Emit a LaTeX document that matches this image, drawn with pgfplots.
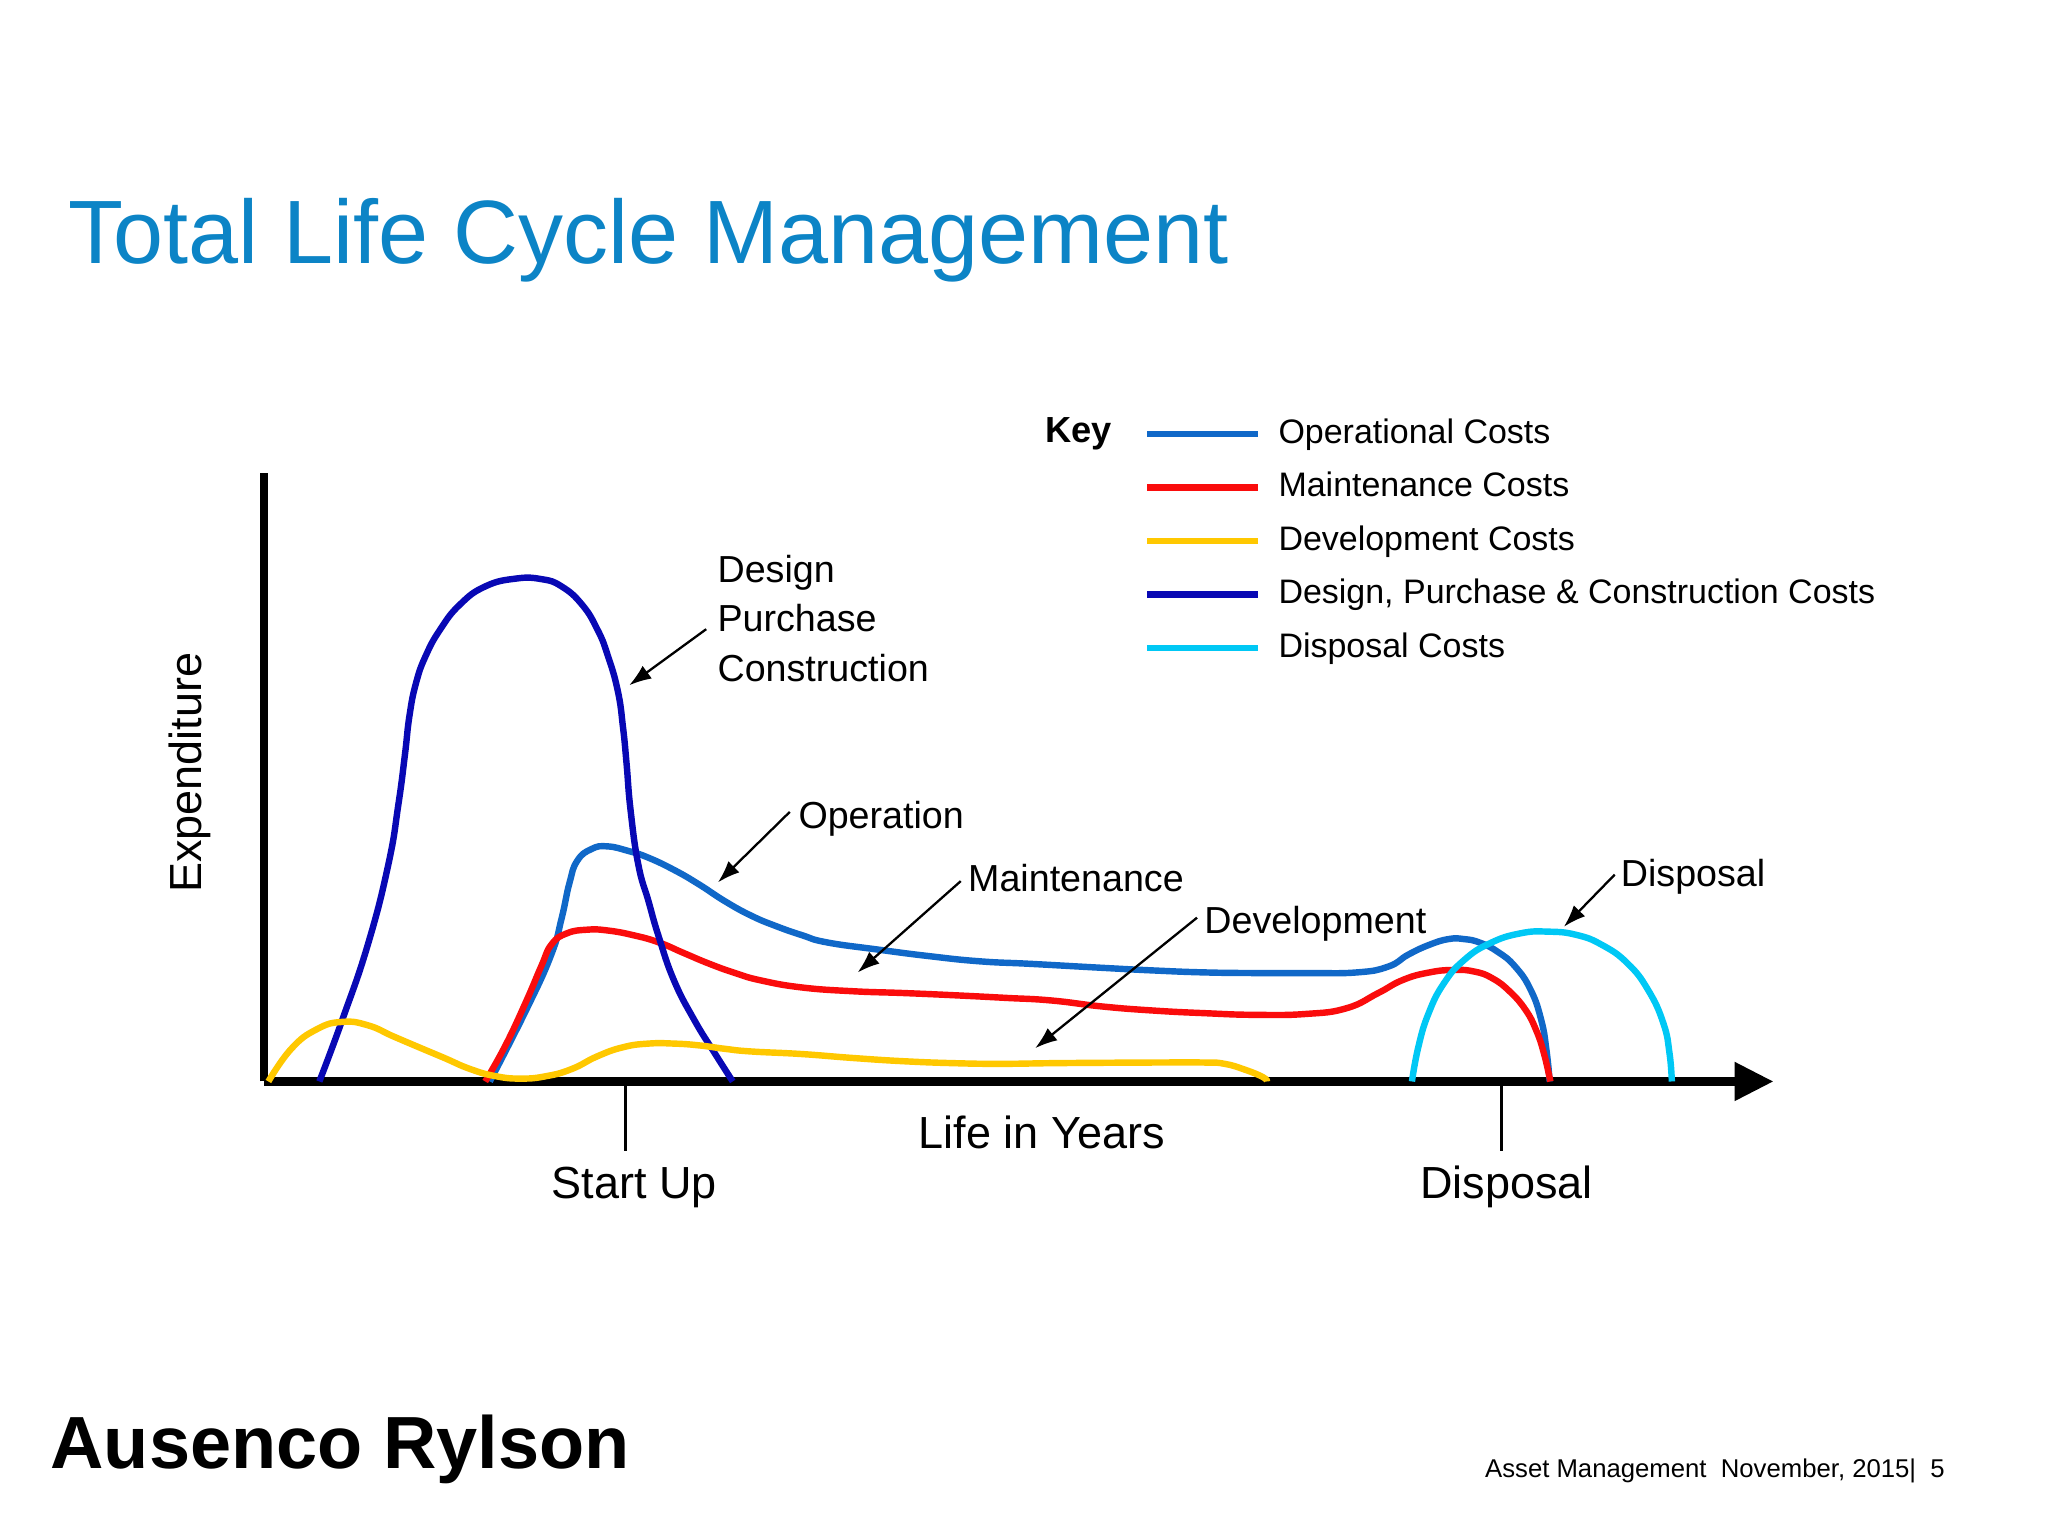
\documentclass[border=0pt]{standalone}
\usepackage{pgfplots}
\pgfplotsset{compat=1.18}
\usepackage{fontspec}
\setmainfont{Liberation Sans}
\usetikzlibrary{arrows.meta}

\definecolor{titleblue}{RGB}{12,132,198}
\definecolor{opblue}{RGB}{16,104,200}
\definecolor{mred}{RGB}{250,12,12}
\definecolor{devyel}{RGB}{255,200,0}
\definecolor{dpcblue}{RGB}{8,8,180}
\definecolor{dispcyan}{RGB}{0,200,245}

\newcommand{\fs}[1]{\fontsize{#1}{#1}\selectfont}

\begin{document}
\begin{tikzpicture}
\fill[white] (0,0) rectangle (15.68cm,-11.76cm);
\begin{axis}[
  scale only axis, width=11.56cm, height=4.66cm,
  at={(2.02cm,-8.28cm)}, anchor=south west,
  xmin=202, xmax=1358, ymin=0, ymax=466,
  axis x line=bottom, axis y line=left,
  x axis line style={line width=2pt, -{Triangle[length=0.3cm,width=0.28cm]}},
  y axis line style={line width=1.7pt, -},
  xtick=\empty, ytick=\empty,
  clip=false,
  every axis plot/.append style={line width=1.4pt, smooth, tension=0.8, no marks},
  legend style={draw=none, fill=none, at={(0.583,1.0895)}, anchor=north west,
    inner sep=0pt, outer sep=0pt, row sep=0.17cm, column sep=0.13cm,
    font=\fs{7.4pt},
    nodes={inner sep=0pt, text height=0.19cm, text depth=0.05cm}},
  legend cell align=left,
  legend image code/.code={\draw[#1, line width=1.4pt] (0cm,0cm) -- (0.85cm,0cm);},
]
\addlegendimage{opblue}
\addlegendentry{Operational Costs}
\addlegendimage{mred}
\addlegendentry{Maintenance Costs}
\addlegendimage{devyel}
\addlegendentry{Development Costs}
\addlegendimage{dpcblue}
\addlegendentry{Design, Purchase \& Construction Costs}
\addlegendimage{dispcyan}
\addlegendentry{Disposal Costs}

% Operational costs
\addplot[opblue, forget plot] coordinates {
(375,0) (403,55) (422,97) (430,125) (436,152) (442,169) (453,178) (465,180)
(481,176.5) (496,171.5) (516,162) (535,151) (555,138) (575,127) (594,119)
(614,112) (633,106.5) (672,101) (711,96) (750,92) (790,90) (844,87) (883,85)
(922,83.5) (961,83) (1000,83) (1039,83.5) (1063,88) (1078,97) (1094,104.5)
(1109,109) (1121,109) (1133,106.3) (1146.5,99.4) (1160,88) (1172,70)
(1180,47) (1184,24) (1186.5,0)};
% Maintenance costs
\addplot[mred, forget plot] coordinates {
(371.5,0) (387,27.6) (402.7,61) (414.5,88.5) (422.3,105) (434,113.4)
(449.6,116.2) (465.2,115.6) (484.8,112) (504.3,106.5) (523.8,98.2)
(543.4,90) (562.9,83) (582.4,77.4) (613.7,72) (652.7,69.1) (691.8,67.7)
(730.8,66) (770,64) (805,62) (844,57.4) (883,54.3) (922,52.3) (961,51)
(1000,51.7) (1031,56.1) (1055,67.6) (1074,77.7) (1094,83.4) (1113,85.4)
(1129,84.1) (1142.6,79) (1156,68.8) (1168,54.8) (1176,39.5) (1182,21.7)
(1187,0)};
% Design, purchase and construction costs
\addplot[dpcblue, forget plot] coordinates {
(244.5,0) (262,47) (281.7,105) (297.3,166) (305,212) (310,250) (313.5,280)
(318.5,305) (326,326) (337,346) (352,365) (371.5,379) (394.9,385)
(414.5,384.6) (430,379) (445.7,365) (457.4,346) (465.2,326.5) (473,299)
(477,271) (479.7,243.5) (482.8,207.5) (488.7,166) (496.5,138) (504.3,111)
(516,77.4) (531.6,47) (547,22) (561,0)};
% Development costs
\addplot[devyel, forget plot] coordinates {
(205.5,0) (223,25) (242.6,40) (262,45.6) (281.7,43) (301.2,34.5) (320.7,26.2)
(340.2,18) (359.8,9.6) (379.3,4.1) (398.8,2.2) (418.4,4.1) (437.9,9.6)
(457.4,19.3) (477,26.2) (496.5,29) (516,29) (535.5,27.6) (555,25) (574.6,23)
(613.7,21) (652.7,18) (691.8,15.5) (730.8,14) (766,13.5) (805,14) (844,14.3)
(883,14.5) (922,14.5) (937.6,13.5) (953.2,9) (967,3.3) (970,0)};
% Disposal costs
\addplot[dispcyan, forget plot] coordinates {
(1081,0) (1086,26.8) (1093.8,52.3) (1105.5,75.2) (1121,93) (1140.7,105.8)
(1164,113.4) (1185.6,114.7) (1207,112.2) (1226.6,104.5) (1246,90.5)
(1261.8,70.1) (1273.5,44.6) (1278.2,21.7) (1280,0)};
\end{axis}

\begin{scope}[x=0.01cm,y=-0.01cm]
\node[anchor=base west, inner sep=0, text=titleblue, font=\fs{19.6pt}] at (52,202) {Total Life Cycle Management};
\node[anchor=base west, inner sep=0, font=\bfseries\fs{7.9pt}] at (800,339) {Key};

\tikzset{ann/.style={anchor=base west, inner sep=0, font=\fs{8.2pt}},
         arr/.style={line width=0.5pt, -{Latex[length=0.17cm,width=0.12cm]}}}
\node[ann] at (549,446) {Design};
\node[ann] at (549,484) {Purchase};
\node[ann] at (549,522) {Construction};
\draw[arr] (541,482) -- (482,525);
\node[ann] at (611,635) {Operation};
\draw[arr] (605,622) -- (550,676);
\node[ann] at (741,683) {Maintenance};
\draw[arr] (736,675) -- (657,745);
\node[ann] at (922,715) {Development};
\draw[arr] (917,703) -- (793,803);
\node[ann] at (1241,679) {Disposal};
\draw[arr] (1237,670) -- (1198,710);

\draw[line width=0.6pt] (479,832) -- (479,882);
\draw[line width=0.6pt] (1150,832) -- (1150,882);
\node[anchor=base, inner sep=0, font=\fs{9.8pt}] at (486,918) {Start Up};
\node[anchor=base, inner sep=0, font=\fs{9.8pt}] at (1154,918) {Disposal};
\node[anchor=base, inner sep=0, font=\fs{9.8pt}] at (798,880) {Life in Years};
\node[anchor=base, inner sep=0, rotate=90, font=\fs{9.8pt}] at (154,592) {Expenditure};

\node[anchor=base west, inner sep=0, font=\bfseries\fs{16.1pt}] at (38,1125) {Ausenco Rylson};
\node[anchor=base west, inner sep=0, font=\fs{5.6pt}] at (1137,1132) {Asset Management\ \ November, 2015|\ \ 5};
\end{scope}
\end{tikzpicture}
\end{document}
